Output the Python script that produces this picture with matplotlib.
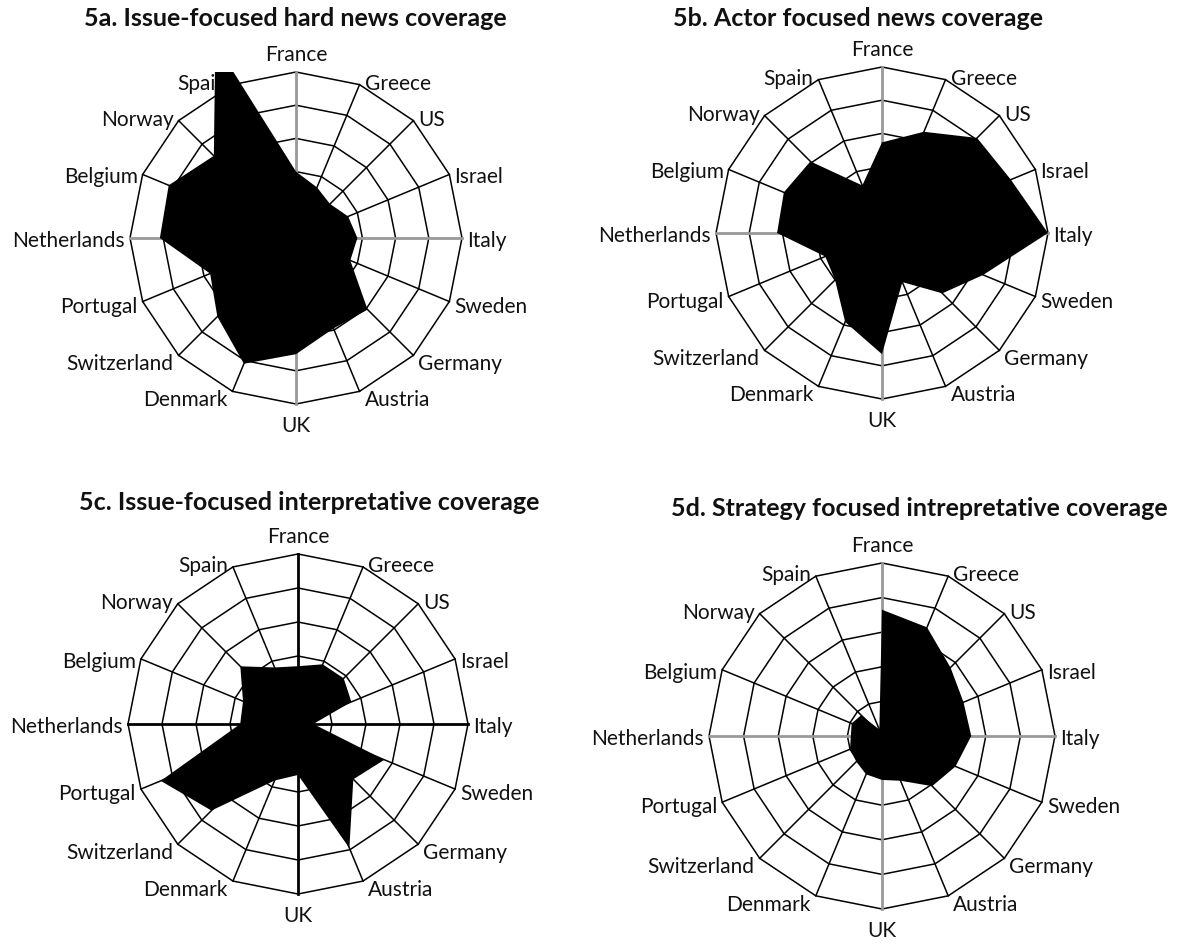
import numpy as np
import matplotlib.pyplot as plt

plt.rcParams['font.family'] = ['Lato', 'DejaVu Sans']

countries = ["France", "Greece", "US", "Israel", "Italy", "Sweden", "Germany", "Austria",
             "UK", "Denmark", "Switzerland", "Portugal", "Netherlands", "Belgium", "Norway", "Spain"]

# values in ring units (outer ring = 5)
issue_hard = [2.0, 1.65, 1.45, 1.7, 1.85, 1.77, 3.05, 2.95, 3.5, 4.1, 3.35, 2.8, 4.1, 4.15, 3.5, 6.35]
actor_news = [2.73, 3.3, 4.05, 4.2, 5.0, 3.3, 2.57, 1.6, 3.65, 2.9, 2.0, 1.85, 3.16, 3.2, 3.05, 1.55]
issue_interp = [1.7, 1.9, 1.9, 1.7, 0.45, 2.75, 2.3, 3.95, 1.5, 1.8, 3.6, 4.37, 1.7, 1.75, 2.4, 1.8]
strategy_interp = [3.65, 3.4, 2.8, 2.55, 2.58, 2.3, 2.05, 1.4, 1.27, 1.2, 1.05, 1.0, 0.9, 0.95, 0.85, 0.2]

titles = ["5a. Issue-focused hard news coverage",
          "5b. Actor focused news coverage",
          "5c. Issue-focused interpretative coverage",
          "5d. Strategy focused intrepretative coverage"]

W, H = 1177, 945
fig = plt.figure(figsize=(W / 100, H / 100), dpi=100)


def label_offset(i):
    # offset in pixels from the outer vertex
    ang = np.deg2rad(i * 22.5)
    s, c = np.sin(ang), np.cos(ang)
    if i == 0:
        return 0, 18
    if i == 8:
        return 0, -21
    dx = 5 * np.sign(s)
    if c > 0.5:
        dy = 2
    elif c > -0.1:
        dy = -2
    elif c > -0.5:
        dy = -4
    else:
        dy = -8
    return dx, dy


def draw_radar(cx, cy, R, values, title, tx, ty, spoke_color):
    ax = fig.add_axes([(cx - R) / W, (H - cy - R) / H, 2 * R / W, 2 * R / H])
    ax.set_xlim(-5, 5)
    ax.set_ylim(-5, 5)
    ax.axis('off')
    ang = np.deg2rad(np.arange(16) * 22.5)
    sx, sy = np.sin(ang), np.cos(ang)
    for r in range(1, 6):
        ax.plot(np.append(sx, sx[0]) * r, np.append(sy, sy[0]) * r,
                color='black', lw=1.1, clip_on=False, zorder=1)
    for i in range(16):
        main = i % 4 == 0
        ax.plot([0, 5 * sx[i]], [0, 5 * sy[i]],
                color=spoke_color if main else 'black', lw=2.0 if main else 1.1,
                clip_on=False, zorder=1.5 if main else 1)
    v = np.array(values)
    ax.fill(v * sx, v * sy, color='black', lw=0, zorder=3)
    for i, name in enumerate(countries):
        dx, dy = label_offset(i)
        ha = 'center' if i in (0, 8) else ('left' if sx[i] > 0 else 'right')
        ax.annotate(name, (5 * sx[i], 5 * sy[i]), xytext=(dx * 0.72, dy * 0.72),
                    textcoords='offset points', ha=ha, va='center',
                    fontsize=15, color='#111111', zorder=2, annotation_clip=False)
    fig.text(tx / W, 1 - ty / H, title, ha='center', va='center',
             fontsize=18, fontweight='bold', color='#111111')


draw_radar(296, 239, 166, issue_hard, titles[0], 295, 18, '#999999')
draw_radar(882, 234, 166, actor_news, titles[1], 858, 18, '#999999')
draw_radar(298, 725, 170, issue_interp, titles[2], 309, 502, 'black')
draw_radar(882, 737, 173, strategy_interp, titles[3], 919, 508, '#999999')

fig.savefig('out.png', dpi=100, facecolor='white')
